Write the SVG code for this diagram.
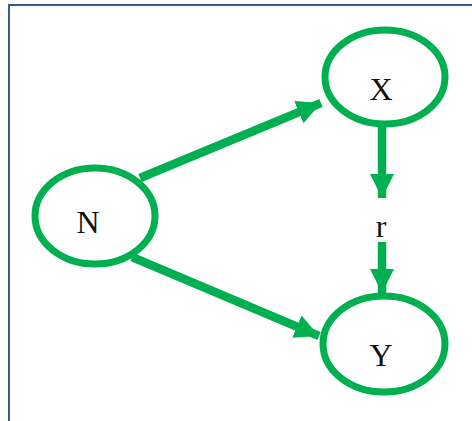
<svg xmlns="http://www.w3.org/2000/svg" width="472" height="421" viewBox="0 0 472 421">
<defs>
<style>
.node{fill:#fff;stroke:#00b050;stroke-width:7}
.lbl{font-family:"Liberation Serif","DejaVu Serif",serif;font-size:32px;fill:#111;text-anchor:middle}
.edge{stroke:#00b050;stroke-width:8.5;fill:none}
</style>
<marker id="ah" viewBox="0 0 10 10" refX="10" refY="5" markerUnits="userSpaceOnUse" markerWidth="24" markerHeight="25" orient="auto">
<path d="M0,0 L10,5 L0,10 z" fill="#00b050"/>
</marker>
</defs>
<rect width="472" height="421" fill="#fff"/>
<path d="M9,421 V5 H472" fill="none" stroke="#3a5b92" stroke-width="2"/>
<g id="connectors">
<line class="edge" x1="140" y1="178" x2="321" y2="103" marker-end="url(#ah)"/>
<line class="edge" x1="132" y1="257" x2="319" y2="336" marker-end="url(#ah)"/>
<line class="edge" x1="382" y1="127" x2="382" y2="198" marker-end="url(#ah)"/>
<line class="edge" x1="382" y1="242" x2="382" y2="293" marker-end="url(#ah)"/>
</g>
<g id="node-x">
<ellipse class="node" cx="385" cy="77" rx="60" ry="47"/>
<text class="lbl" x="381" y="100">X</text>
</g>
<g id="node-n">
<ellipse class="node" cx="95" cy="216" rx="60" ry="48"/>
<text class="lbl" x="88" y="233">N</text>
</g>
<g id="node-y">
<ellipse class="node" cx="384" cy="344" rx="61" ry="48"/>
<text class="lbl" x="381" y="366">Y</text>
</g>
<g id="label-r">
<text class="lbl" x="381" y="237">r</text>
</g>
</svg>
